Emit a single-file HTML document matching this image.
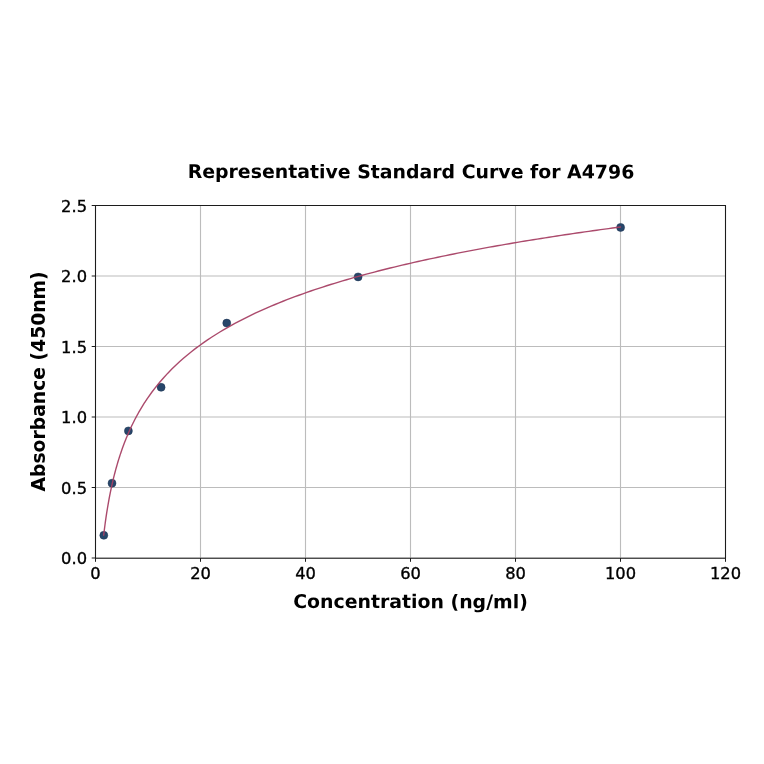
<!DOCTYPE html>
<html lang="en"><head><meta charset="utf-8"><title>Representative Standard Curve for A4796</title>
<style>html,body{margin:0;padding:0;background:#fff}body{width:764px;height:764px;overflow:hidden}svg{display:block}text{font-family:"DejaVu Sans","Liberation Sans",sans-serif;fill:#000}.t{font-size:16.3px;stroke:#000;stroke-width:.35px}.b{font-weight:bold}</style></head><body>
<svg width="764" height="764" viewBox="0 0 764 764">
<rect width="764" height="764" fill="#fff"/>
<path d="M95.50,205.5V558.0M200.50,205.5V558.0M305.50,205.5V558.0M410.50,205.5V558.0M515.50,205.5V558.0M620.50,205.5V558.0M725.50,205.5V558.0M95.5,558.00H725.5M95.5,487.50H725.5M95.5,417.00H725.5M95.5,346.50H725.5M95.5,276.00H725.5M95.5,205.50H725.5" stroke="#bcbcbc" stroke-width="1.12" fill="none"/>
<g>
<circle cx="103.8" cy="535.3" r="4" fill="#27466a" stroke="#1d3350" stroke-width="0.5"/>
<circle cx="112.0" cy="483.2" r="4" fill="#27466a" stroke="#1d3350" stroke-width="0.5"/>
<circle cx="128.4" cy="430.9" r="4" fill="#27466a" stroke="#1d3350" stroke-width="0.5"/>
<circle cx="161.1" cy="387.3" r="4" fill="#27466a" stroke="#1d3350" stroke-width="0.5"/>
<circle cx="226.75" cy="323.1" r="4" fill="#27466a" stroke="#1d3350" stroke-width="0.5"/>
<circle cx="358.1" cy="276.9" r="4" fill="#27466a" stroke="#1d3350" stroke-width="0.5"/>
<circle cx="620.6" cy="227.4" r="4" fill="#27466a" stroke="#1d3350" stroke-width="0.5"/>
<path d="M103.69,535.18 L104.44,528.99 L105.19,523.26 L105.94,517.93 L106.69,512.94 L107.45,508.26 L108.20,503.85 L108.95,499.67 L109.70,495.71 L110.45,491.94 L111.20,488.34 L111.95,484.91 L112.70,481.61 L113.45,478.46 L114.20,475.42 L114.96,472.50 L115.71,469.69 L116.46,466.97 L117.21,464.35 L117.96,461.81 L118.71,459.35 L119.46,456.97 L120.21,454.65 L120.96,452.41 L121.71,450.22 L122.47,448.10 L123.22,446.03 L123.97,444.02 L124.72,442.06 L125.47,440.14 L126.22,438.28 L126.97,436.45 L127.72,434.67 L128.47,432.93 L129.22,431.22 L129.98,429.56 L130.73,427.92 L131.48,426.32 L132.23,424.76 L132.98,423.22 L133.73,421.72 L134.48,420.24 L135.23,418.79 L135.98,417.37 L136.73,415.97 L137.49,414.60 L138.24,413.25 L138.99,411.93 L139.74,410.63 L140.49,409.34 L141.24,408.08 L141.99,406.85 L142.74,405.63 L143.49,404.42 L144.24,403.24 L145.00,402.08 L145.75,400.93 L146.50,399.80 L147.25,398.69 L148.00,397.59 L151.97,392.03 L155.94,386.85 L159.91,382.00 L163.88,377.44 L167.85,373.14 L171.82,369.07 L175.79,365.21 L179.76,361.54 L183.74,358.04 L187.71,354.69 L191.68,351.49 L195.65,348.42 L199.62,345.47 L203.59,342.64 L207.56,339.90 L211.53,337.27 L215.50,334.73 L219.47,332.27 L223.44,329.89 L227.41,327.59 L231.38,325.36 L235.35,323.19 L239.32,321.09 L243.29,319.04 L247.26,317.05 L251.24,315.12 L255.21,313.23 L259.18,311.40 L263.15,309.60 L267.12,307.86 L271.09,306.15 L275.06,304.49 L279.03,302.86 L283.00,301.27 L286.97,299.71 L290.94,298.19 L294.91,296.69 L298.88,295.23 L302.85,293.80 L306.82,292.40 L310.79,291.02 L314.76,289.68 L318.74,288.35 L322.71,287.05 L326.68,285.78 L330.65,284.53 L334.62,283.30 L338.59,282.09 L342.56,280.90 L346.53,279.73 L350.50,278.58 L354.47,277.45 L358.44,276.34 L362.41,275.25 L366.38,274.17 L370.35,273.11 L374.32,272.06 L378.29,271.04 L382.26,270.02 L386.24,269.02 L390.21,268.04 L394.18,267.07 L398.15,266.11 L402.12,265.17 L406.09,264.24 L410.06,263.32 L414.03,262.41 L418.00,261.52 L421.97,260.64 L425.94,259.77 L429.91,258.91 L433.88,258.06 L437.85,257.22 L441.82,256.39 L445.79,255.57 L449.76,254.77 L453.74,253.97 L457.71,253.18 L461.68,252.40 L465.65,251.63 L469.62,250.87 L473.59,250.11 L477.56,249.37 L481.53,248.63 L485.50,247.90 L489.47,247.18 L493.44,246.47 L497.41,245.76 L501.38,245.07 L505.35,244.38 L509.32,243.69 L513.29,243.02 L517.26,242.35 L521.24,241.68 L525.21,241.03 L529.18,240.38 L533.15,239.74 L537.12,239.10 L541.09,238.47 L545.06,237.84 L549.03,237.22 L553.00,236.61 L556.97,236.00 L560.94,235.40 L564.91,234.81 L568.88,234.21 L572.85,233.63 L576.82,233.05 L580.79,232.47 L584.76,231.90 L588.74,231.34 L592.71,230.78 L596.68,230.22 L600.65,229.67 L604.62,229.13 L608.59,228.59 L612.56,228.05 L616.53,227.52 L620.50,226.99" stroke="#a64064" stroke-width="1.4" stroke-opacity="0.95" fill="none" stroke-linecap="round" stroke-linejoin="round"/>
</g>
<path d="M95.50,558.0v3.8M200.50,558.0v3.8M305.50,558.0v3.8M410.50,558.0v3.8M515.50,558.0v3.8M620.50,558.0v3.8M725.50,558.0v3.8M95.5,558.00h-3.8M95.5,487.50h-3.8M95.5,417.00h-3.8M95.5,346.50h-3.8M95.5,276.00h-3.8M95.5,205.50h-3.8" stroke="#1c1c1c" stroke-width="1" fill="none"/>
<path d="M95.5,205.0V558.75M725.5,205.0V558.75M95.0,205.5H726.0" fill="none" stroke="#1c1c1c" stroke-width="1.05"/>
<path d="M95.0,558.2H726.0" fill="none" stroke="#1c1c1c" stroke-width="1.15"/>
<text class="t" x="95.50" y="579" text-anchor="middle">0</text>
<text class="t" x="200.50" y="579" text-anchor="middle">20</text>
<text class="t" x="305.50" y="579" text-anchor="middle">40</text>
<text class="t" x="410.50" y="579" text-anchor="middle">60</text>
<text class="t" x="515.50" y="579" text-anchor="middle">80</text>
<text class="t" x="620.50" y="579" text-anchor="middle">100</text>
<text class="t" x="725.50" y="579" text-anchor="middle">120</text>
<text class="t" x="87" y="564" text-anchor="end">0.0</text>
<text class="t" x="87" y="494" text-anchor="end">0.5</text>
<text class="t" x="87" y="423" text-anchor="end">1.0</text>
<text class="t" x="87" y="353" text-anchor="end">1.5</text>
<text class="t" x="87" y="282" text-anchor="end">2.0</text>
<text class="t" x="87" y="212" text-anchor="end">2.5</text>
<text class="b" id="title" x="411" y="178.22" transform="rotate(0.05 411 178.22)" text-anchor="middle" font-size="18.9">Representative Standard Curve for A4796</text>
<text class="b" id="xl" x="410.5" y="608.12" transform="rotate(0.05 410.5 608.12)" text-anchor="middle" font-size="18.9">Concentration (ng/ml)</text>
<text class="b" id="yl" transform="translate(45,381.4) rotate(-90)" text-anchor="middle" font-size="18.75">Absorbance (450nm)</text>
</svg></body></html>
